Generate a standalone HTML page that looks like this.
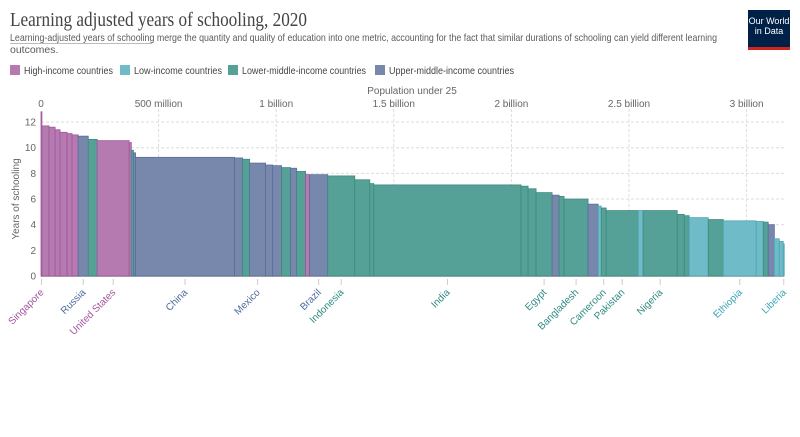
<!DOCTYPE html>
<html><head><meta charset="utf-8"><style>
body{margin:0;background:#fff;width:800px;height:432px;overflow:hidden;font-family:"Liberation Sans",sans-serif}
</style></head><body>
<svg id="chart" width="800" height="432" xmlns="http://www.w3.org/2000/svg">
<text x="10" y="26" font-family="Liberation Serif,serif" font-size="20" fill="#444" textLength="297" lengthAdjust="spacingAndGlyphs">Learning adjusted years of schooling, 2020</text>
<text x="10" y="41" font-size="10.5" fill="#5b5b5b" textLength="707" lengthAdjust="spacingAndGlyphs">Learning-adjusted years of schooling merge the quantity and quality of education into one metric, accounting for the fact that similar durations of schooling can yield different learning</text>
<line x1="10" y1="43.5" x2="152" y2="43.5" stroke="#bbb" stroke-width="1"/>
<text x="10" y="53" font-size="10.5" fill="#5b5b5b">outcomes.</text>
<g>
<rect x="748" y="10" width="42" height="40" fill="#002147"/>
<rect x="748" y="47" width="42" height="3" fill="#ce261e"/>
<text x="769" y="24" font-size="9" fill="#fff" text-anchor="middle">Our World</text>
<text x="769" y="34" font-size="9" fill="#fff" text-anchor="middle">in Data</text>
</g>
<g id="legend"></g>
<text x="412" y="94" font-size="10" fill="#666" text-anchor="middle">Population under 25</text>
<text transform="translate(19,199) rotate(-90)" font-size="10" fill="#666" text-anchor="middle">Years of schooling</text>
<g id="grid"></g><g id="bars"></g><g id="labels"></g>
</svg>
<script>
const regions=["High-income countries","Low-income countries","Lower-middle-income countries","Upper-middle-income countries"];
const fills={H:"#b57bb1",T:"#6fbbc7",L:"#56a197",U:"#7888ad"};
const edges={H:"#a2559c",T:"#4fa6b5",L:"#3e8a7e",U:"#5b6d9c"};
const labelColors={H:"#a2559c",T:"#3aa3b8",L:"#2d8a80",U:"#4c6a9c"};
const names=["Singapore","","","","","","","Russia","","United States","","","","China","","","Mexico","","","","","","","Brazil","Indonesia","","","India","","","Egypt","","","Bangladesh","","","Cameroon","Pakistan","","Nigeria","","","","","Ethiopia","","","","","","Liberia"];
const pops=[4,30,26,21,30,21,26,43,38,136,9,9,9,421,34,30,68,30,38,38,26,38,17,77,115,64,17,626,30,34,68,30,21,102,43,13,21,136,21,145,30,21,81,64,140,30,21,26,21,17,4];
const years=[12.8,11.7,11.6,11.4,11.2,11.1,11.0,10.9,10.65,10.55,10.4,9.8,9.6,9.25,9.2,9.1,8.8,8.65,8.6,8.45,8.4,8.15,7.9,7.9,7.8,7.5,7.2,7.1,7.0,6.8,6.5,6.3,6.2,6.0,5.6,5.45,5.3,5.1,5.1,5.1,4.8,4.7,4.55,4.4,4.3,4.25,4.2,4.0,2.9,2.7,2.5];
const regionCodes=["H","H","H","H","H","H","H","U","L","H","H","L","U","U","U","L","U","U","U","L","U","L","H","U","L","L","L","L","L","L","L","U","L","L","U","T","L","L","T","L","L","L","T","L","T","T","L","U","T","T","T"];
const xTicks=[0,500,1000,1500,2000,2500,3000];
const xTickLabels=["0","500 million","1 billion","1.5 billion","2 billion","2.5 billion","3 billion"];
const yTicks=[0,2,4,6,8,10,12];
const NS="http://www.w3.org/2000/svg";
const X0=41,PXM=0.2352,Y0=276,PXY=12.83;
const xs=v=>X0+v*PXM, ys=v=>Y0-v*PXY;
function mk(t,a,p){const e=document.createElementNS(NS,t);for(const k in a)e.setAttribute(k,a[k]);p.appendChild(e);return e;}
const grid=document.getElementById('grid'),bars=document.getElementById('bars'),labels=document.getElementById('labels');
yTicks.forEach(v=>{
 if(v>0){const l=mk('line',{x1:X0,x2:784,y1:ys(v),y2:ys(v),stroke:'#ddd','stroke-dasharray':'3,2'},grid);
 
 }
 const t=mk('text',{x:36,y:ys(v)+3.5,'font-size':10,fill:'#666','text-anchor':'end'},grid);t.textContent=v;
 
 
});
xTicks.forEach((v,i)=>{
 if(v>0){const l=mk('line',{x1:xs(v),x2:xs(v),y1:104,y2:Y0,stroke:'#ddd','stroke-dasharray':'3,2'},grid);
 
 }
 const t=mk('text',{x:xs(v),y:107,'font-size':10,fill:'#666','text-anchor':'middle'},grid);t.textContent=xTickLabels[i];
 
 
});
let cum=0;
pops.forEach((p,i)=>{
 const r=regionCodes[i],x=xs(cum),w=p*PXM,y=ys(years[i]);
 const b=mk('rect',{x:x,y:y,width:w,height:Y0-y,fill:fills[r],stroke:edges[r],'stroke-width':0.8},bars);
 
 
 if(names[i]){
  const cx=x+w/2;
  const tk=mk('line',{x1:cx,x2:cx,y1:Y0+3,y2:Y0+9,stroke:'#ccc'},labels);
  
  
  const t=mk('text',{transform:`translate(${cx+3},${Y0+17}) rotate(-45)`,'font-size':10,fill:labelColors[r],'text-anchor':'end'},labels);
  t.textContent=names[i];
  
  
 }
 cum+=p;
});
mk('line',{x1:X0,x2:784,y1:Y0+0.5,y2:Y0+0.5,stroke:'#bbb'},grid);
const lg=document.getElementById('legend');
const lc=["H","T","L","U"],lx=[10,120,228,375],lw=[89,88,124,125];
regions.forEach((n,i)=>{
 const g=mk('g',{},lg);
 
 
 mk('rect',{x:lx[i],y:65,width:10,height:10,fill:fills[lc[i]]},g);
 const t=mk('text',{x:lx[i]+14,y:74,'font-size':10.5,fill:'#444',textLength:lw[i],lengthAdjust:'spacingAndGlyphs'},g);t.textContent=n;
});
</script>
</body></html>
